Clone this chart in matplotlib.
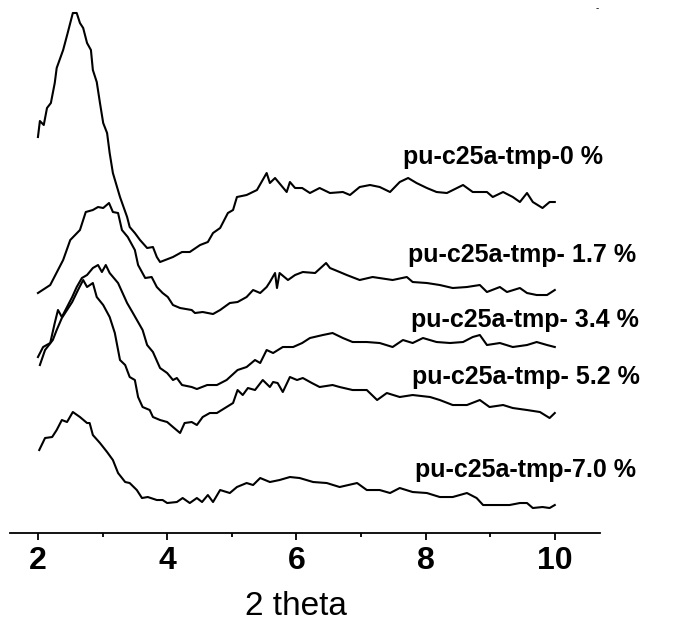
import matplotlib
matplotlib.use("Agg")
import matplotlib.pyplot as plt
from matplotlib.ticker import MultipleLocator

plt.rcParams["font.family"] = ["Liberation Sans", "DejaVu Sans"]

# ---------- data (2 theta, intensity a.u.) ----------
tt_0 = [2.00, 2.03, 2.09, 2.14, 2.20, 2.26, 2.29, 2.39, 2.46, 2.54, 2.60, 2.65, 2.70, 2.76,
        2.82, 2.85, 2.91, 2.96, 3.01, 3.07, 3.11, 3.16, 3.27, 3.38, 3.42, 3.50, 3.58, 3.69,
        3.78, 3.84, 3.89, 4.09, 4.23, 4.35, 4.51, 4.63, 4.71, 4.82, 4.94, 5.02, 5.08, 5.23,
        5.39, 5.54, 5.59, 5.67, 5.85, 5.90, 5.98, 6.09, 6.21, 6.36, 6.52, 6.72, 6.83, 6.98,
        7.14, 7.29, 7.45, 7.60, 7.73, 7.86, 8.02, 8.17, 8.33, 8.58, 8.73, 8.95, 9.04, 9.20,
        9.35, 9.46, 9.57, 9.66, 9.81, 9.92, 10.00]
int_0 = [396, 412, 408, 425, 430, 450, 465, 483, 500, 520, 520, 510, 505, 490,
         483, 463, 451, 430, 410, 400, 380, 360, 336, 316, 306, 300, 293, 285,
         286, 276, 271, 276, 281, 281, 288, 291, 300, 305, 320, 323, 336, 338,
         343, 360, 350, 355, 341, 351, 345, 345, 340, 345, 340, 341, 338, 346,
         348, 346, 341, 351, 355, 350, 345, 341, 340, 348, 341, 341, 336, 341,
         336, 331, 340, 331, 325, 331, 331]

tt_17 = [2.00, 2.19, 2.31, 2.39, 2.50, 2.65, 2.74, 2.85, 2.93, 3.01, 3.10, 3.16, 3.24, 3.30,
         3.39, 3.50, 3.55, 3.66, 3.76, 3.84, 3.93, 4.01, 4.09, 4.20, 4.38, 4.43, 4.55, 4.71,
         4.82, 4.97, 5.09, 5.23, 5.33, 5.44, 5.54, 5.59, 5.67, 5.70, 5.74, 5.87, 5.98, 6.10,
         6.29, 6.46, 6.52, 6.67, 6.78, 6.98, 7.18, 7.49, 7.71, 7.80, 8.02, 8.22, 8.42, 8.64,
         8.84, 8.95, 9.15, 9.26, 9.46, 9.57, 9.72, 9.88, 10.00]
int_17 = [240, 248, 263, 273, 293, 303, 321, 323, 326, 325, 330, 321, 320, 303,
          296, 283, 268, 255, 256, 246, 240, 236, 228, 225, 223, 220, 221, 219,
          223, 230, 231, 236, 243, 240, 246, 251, 260, 245, 260, 253, 258, 261,
          260, 270, 265, 261, 258, 253, 256, 253, 256, 251, 250, 248, 245, 246,
          248, 241, 246, 241, 245, 240, 238, 238, 243]

tt_34 = [2.00, 2.08, 2.19, 2.26, 2.31, 2.37, 2.45, 2.53, 2.60, 2.68, 2.76, 2.85, 2.93, 2.99,
         3.05, 3.11, 3.24, 3.38, 3.47, 3.62, 3.69, 3.78, 3.89, 4.00, 4.09, 4.15, 4.23, 4.38,
         4.46, 4.62, 4.77, 4.92, 5.09, 5.23, 5.36, 5.44, 5.54, 5.64, 5.79, 5.95, 6.09, 6.21,
         6.41, 6.56, 6.72, 6.87, 7.09, 7.29, 7.49, 7.65, 7.80, 7.96, 8.17, 8.38, 8.58, 8.73,
         8.84, 8.95, 9.15, 9.35, 9.57, 9.72, 9.88, 10.00]
int_34 = [176, 186, 190, 210, 223, 216, 226, 236, 246, 255, 258, 265, 268, 261,
          268, 260, 250, 230, 220, 203, 188, 181, 165, 160, 153, 155, 148, 146,
          144, 148, 148, 153, 163, 166, 173, 170, 183, 180, 186, 186, 190, 195,
          198, 200, 195, 191, 191, 190, 186, 193, 190, 195, 191, 190, 191, 196,
          198, 188, 190, 186, 188, 191, 188, 186]

tt_52 = [2.03, 2.11, 2.23, 2.29, 2.37, 2.53, 2.62, 2.70, 2.76, 2.85, 2.91, 3.01, 3.11, 3.19,
         3.27, 3.35, 3.42, 3.50, 3.55, 3.62, 3.73, 3.78, 3.89, 4.00, 4.09, 4.20, 4.27, 4.38,
         4.46, 4.55, 4.66, 4.77, 4.92, 5.02, 5.09, 5.17, 5.25, 5.36, 5.48, 5.59, 5.64, 5.71,
         5.79, 5.90, 6.01, 6.10, 6.24, 6.36, 6.56, 6.67, 6.87, 7.09, 7.25, 7.40, 7.60, 7.80,
         8.07, 8.22, 8.42, 8.64, 8.84, 8.99, 9.20, 9.35, 9.57, 9.77, 9.92, 10.00]
int_52 = [168, 183, 193, 203, 215, 231, 243, 253, 246, 250, 236, 228, 216, 200,
          173, 168, 156, 153, 136, 126, 123, 116, 113, 111, 106, 100, 110, 111,
          108, 116, 120, 120, 126, 130, 143, 138, 145, 143, 153, 146, 151, 150,
          141, 156, 153, 155, 150, 146, 148, 146, 143, 143, 133, 140, 136, 138,
          136, 133, 128, 128, 133, 126, 128, 125, 123, 121, 115, 120]

tt_70 = [2.02, 2.11, 2.22, 2.29, 2.37, 2.45, 2.54, 2.65, 2.76, 2.80, 2.85, 2.96, 3.07, 3.16,
         3.24, 3.35, 3.42, 3.53, 3.61, 3.70, 3.84, 3.93, 4.00, 4.15, 4.24, 4.35, 4.46, 4.54,
         4.63, 4.71, 4.82, 4.97, 5.08, 5.23, 5.33, 5.44, 5.59, 5.74, 5.90, 6.05, 6.26, 6.47,
         6.67, 6.94, 7.09, 7.29, 7.45, 7.60, 7.80, 8.02, 8.22, 8.42, 8.64, 8.79, 8.89, 9.10,
         9.30, 9.46, 9.57, 9.66, 9.81, 9.92, 10.00]
int_70 = [83, 95, 96, 103, 113, 111, 121, 116, 110, 110, 98, 90, 81, 73,
          60, 51, 50, 43, 35, 36, 33, 33, 30, 31, 35, 30, 35, 31,
          38, 31, 43, 40, 46, 50, 48, 55, 51, 53, 56, 55, 51, 50,
          46, 50, 43, 43, 40, 45, 41, 40, 36, 36, 40, 35, 28, 28,
          28, 30, 30, 25, 26, 25, 28]

labels = ["pu-c25a-tmp-0 %", "pu-c25a-tmp- 1.7 %", "pu-c25a-tmp- 3.4 %",
          "pu-c25a-tmp- 5.2 %", "pu-c25a-tmp-7.0 %"]
label_x = [7.65, 7.73, 7.77, 7.79, 7.83]
label_y = [376, 278, 213, 156, 63]

# ---------- plot ----------
fig = plt.figure(figsize=(6.88, 6.24), dpi=100)
ax = fig.add_axes([0.0145, 0.1458, 0.8576, 0.8542])

for tt, inten in [(tt_0, int_0), (tt_17, int_17), (tt_34, int_34),
                  (tt_52, int_52), (tt_70, int_70)]:
    ax.plot(tt, inten, color="black", lw=1.5)

for lab, lx, ly in zip(labels, label_x, label_y):
    ax.text(lx, ly, lab, fontsize=18, fontweight="bold", ha="left", va="center")

ax.set_xlim(1.567, 10.70)
ax.set_ylim(0, 533)
for s in ["left", "top", "right"]:
    ax.spines[s].set_visible(False)
ax.spines["bottom"].set_linewidth(1.3)
ax.set_yticks([])
ax.xaxis.set_minor_locator(MultipleLocator(1))
ax.tick_params(axis="x", which="major", length=5, width=1.3, pad=4,
               labelsize=23)
ax.tick_params(axis="x", which="minor", length=3, width=1.3)
ax.set_xticks([2, 4, 6, 8, 10])
ax.set_xticklabels(["2", "4", "6", "8", "10"], fontweight="bold")
ax.set_xlabel("2 theta", fontsize=24, va="top")
ax.xaxis.set_label_coords(0.485, -0.108)

fig.text(0.866, 0.982, "-", fontsize=7)

fig.savefig("out.png", dpi=100)
